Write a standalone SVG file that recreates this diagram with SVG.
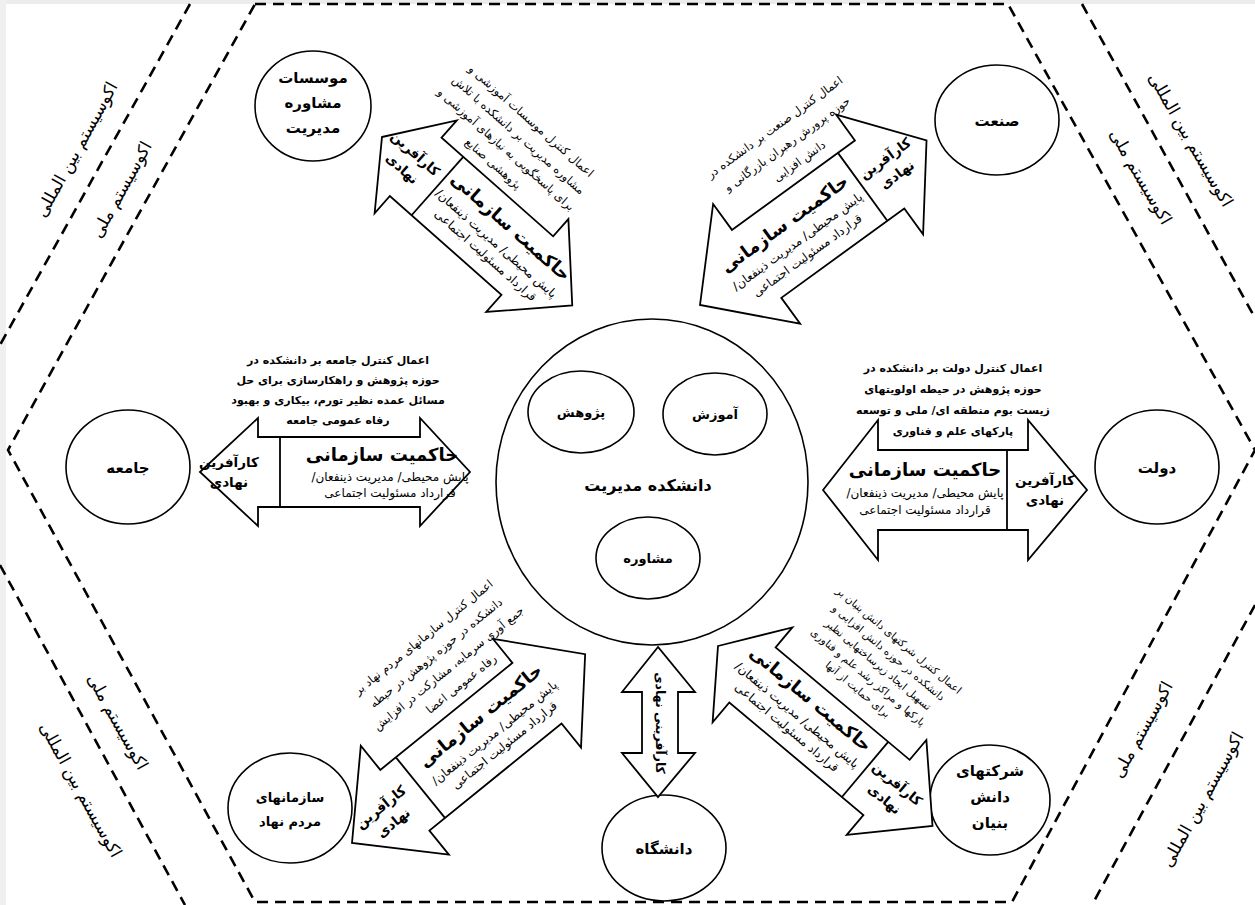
<svg xmlns="http://www.w3.org/2000/svg" width="1255" height="905" viewBox="0 0 1255 905">
<style>
text{font-family:"DejaVu Sans","Noto Sans",sans-serif;text-anchor:middle;direction:rtl;fill:#000}
.arr{fill:#fff;stroke:#000;stroke-width:1.8;stroke-linejoin:miter}
.dv{stroke:#000;stroke-width:1.8}
.dash{fill:none;stroke:#000;stroke-width:2.6;stroke-dasharray:11 7}
.ell{fill:#fff;stroke:#000;stroke-width:1.6}
.t{font-size:18px;font-weight:bold}
.ka{font-size:13.5px;font-weight:bold}
.sub{font-size:12px}
.d{font-size:11.5px}
.dh{font-size:11px;font-weight:bold}
.d2{font-size:10.5px}
.eco{font-size:17px}
.in{font-size:13px;font-weight:bold}
.sat{font-size:15px;font-weight:bold}
.ctr{font-size:16px;font-weight:bold}
</style>
<rect x="0" y="0" width="1255" height="905" fill="#fff"/>
<rect x="0" y="0" width="1255" height="4" fill="#ececec"/>
<rect x="0" y="0" width="6" height="905" fill="#f0f0f0"/>

<g id="boundaries">
  <path class="dash" d="M255,4 L1008,4 L1255,450 L1012,902 L255,902 L8,450 Z"/>
  <line class="dash" x1="190" y1="4" x2="0" y2="345"/>
  <line class="dash" x1="1082" y1="4" x2="1255" y2="318"/>
  <line class="dash" x1="0" y1="565" x2="185" y2="905"/>
  <line class="dash" x1="1255" y1="605" x2="1092" y2="905"/>
  <text class="eco" transform="translate(77,150) rotate(-61)" y="5">اکوسیستم بین المللی</text>
  <text class="eco" transform="translate(122,190) rotate(-61)" y="5">اکوسیستم ملی</text>
  <text class="eco" transform="translate(1190,140) rotate(60)" y="5">اکوسیستم بین المللی</text>
  <text class="eco" transform="translate(1140,177) rotate(60)" y="5">اکوسیستم ملی</text>
  <text class="eco" transform="translate(117,722) rotate(61)" y="5">اکوسیستم ملی</text>
  <text class="eco" transform="translate(80,790) rotate(61)" y="5">اکوسیستم بین المللی</text>
  <text class="eco" transform="translate(1143,730) rotate(-61)" y="5">اکوسیستم ملی</text>
  <text class="eco" transform="translate(1203,800) rotate(-61)" y="5">اکوسیستم بین المللی</text>
</g>

<g id="faculty">
  <ellipse class="ell" cx="652" cy="482" rx="156" ry="163"/>
  <text class="ctr" x="648" y="491">دانشکده مدیریت</text>
</g>
<g id="research">
  <ellipse class="ell" cx="581" cy="412" rx="53" ry="41"/>
  <text class="in" x="581" y="417">پژوهش</text>
</g>
<g id="education">
  <ellipse class="ell" cx="715" cy="414" rx="52" ry="41"/>
  <text class="in" x="715" y="419">آموزش</text>
</g>
<g id="consulting">
  <ellipse class="ell" cx="648" cy="558" rx="52" ry="41"/>
  <text class="in" x="648" y="563">مشاوره</text>
</g>

<g id="institutes">
  <ellipse class="ell" cx="313" cy="106" rx="58" ry="55"/>
  <text class="sat" x="313" y="83">موسسات</text>
  <text class="sat" x="313" y="108">مشاوره</text>
  <text class="sat" x="313" y="133">مدیریت</text>
</g>
<g id="industry">
  <ellipse class="ell" cx="997" cy="120" rx="62" ry="55"/>
  <text class="sat" x="997" y="126">صنعت</text>
</g>
<g id="society">
  <ellipse class="ell" cx="128" cy="467" rx="62" ry="57"/>
  <text class="sat" x="128" y="473">جامعه</text>
</g>
<g id="government">
  <ellipse class="ell" cx="1157" cy="467" rx="62" ry="57"/>
  <text class="sat" x="1157" y="473">دولت</text>
</g>
<g id="ngos">
  <ellipse class="ell" cx="290" cy="808" rx="62" ry="55"/>
  <text class="sat" x="290" y="802" style="font-size:13px">سازمانهای</text>
  <text class="sat" x="290" y="826" style="font-size:13px">مردم نهاد</text>
</g>
<g id="knowledge-firms">
  <ellipse class="ell" cx="990" cy="800" rx="60" ry="55"/>
  <text class="sat" x="990" y="776">شرکتهای</text>
  <text class="sat" x="990" y="802">دانش</text>
  <text class="sat" x="990" y="828">بنیان</text>
</g>
<g id="university">
  <ellipse class="ell" cx="664" cy="848" rx="62" ry="53"/>
  <text class="sat" x="664" y="854">دانشگاه</text>
</g>

<g id="connectors">
  <g id="arrow-society" transform="translate(200,472)">
    <polygon class="arr" points="0,0 58,-54 58,-35 220,-35 220,-54 270,0 220,54 220,35 58,35 58,54"/>
    <line class="dv" x1="80" y1="-35" x2="80" y2="35"/>
    <text class="ka" x="29" y="-5">کارآفرین</text>
    <text class="ka" x="29" y="15">نهادی</text>
    <text class="t" x="182" y="-11">حاکمیت سازمانی</text>
    <text class="sub" x="190" y="9">پایش محیطی/ مدیریت ذینفعان/</text>
    <text class="sub" x="190" y="25">قرارداد مسئولیت اجتماعی</text>
    <text class="dh" x="138" y="-108">اعمال کنترل جامعه بر دانشکده در</text>
    <text class="dh" x="138" y="-88">حوزه پژوهش و راهکارسازی برای حل</text>
    <text class="dh" x="138" y="-68">مسائل عمده نظیر تورم، بیکاری و بهبود</text>
    <text class="dh" x="138" y="-48">رفاه عمومی جامعه</text>
  </g>
  <g id="arrow-government" transform="translate(823,490)">
    <polygon class="arr" points="0,0 55,-70 55,-40 205,-40 205,-70 264,0 205,70 205,40 55,40 55,70"/>
    <line class="dv" x1="184" y1="-40" x2="184" y2="40"/>
    <text class="ka" x="222" y="-5">کارآفرین</text>
    <text class="ka" x="222" y="15">نهادی</text>
    <text class="t" x="102" y="-14">حاکمیت سازمانی</text>
    <text class="sub" x="102" y="7">پایش محیطی/ مدیریت ذینفعان/</text>
    <text class="sub" x="102" y="24">قرارداد مسئولیت اجتماعی</text>
    <text class="dh" x="130" y="-118">اعمال کنترل دولت بر دانشکده در</text>
    <text class="dh" x="130" y="-97">حوزه پژوهش در حیطه اولویتهای</text>
    <text class="dh" x="130" y="-76">زیست بوم منطقه ای/ ملی و توسعه</text>
    <text class="dh" x="130" y="-55">پارکهای علم و فناوری</text>
  </g>
  <g id="arrow-institutes" transform="translate(382,137) rotate(41.5)">
    <polygon class="arr" points="0,0 45,-62 45,-39 194,-39 194,-62 254,0 194,62 194,39 45,39 45,62"/>
    <line class="dv" x1="74" y1="-39" x2="74" y2="39"/>
    <text class="ka" x="36" y="-5">کارآفرین</text>
    <text class="ka" x="36" y="15">نهادی</text>
    <text class="t" x="156" y="-12">حاکمیت سازمانی</text>
    <text class="sub" x="156" y="8">پایش محیطی/ مدیریت ذینفعان/</text>
    <text class="sub" x="156" y="24">قرارداد مسئولیت اجتماعی</text>
    <text class="d" x="101" y="-107">اعمال کنترل موسسات آموزشی و</text>
    <text class="d" x="101" y="-88">مشاوره مدیریت بر دانشکده با تلاش</text>
    <text class="d" x="101" y="-69">برای پاسخگویی به نیازهای آموزشی و</text>
    <text class="d" x="101" y="-50">پژوهشی صنایع</text>
  </g>
  <g id="arrow-industry" transform="translate(700,305) rotate(-36)">
    <polygon class="arr" points="0,0 70,-74 70,-42 222,-42 222,-74 280,0 222,74 222,42 70,42 70,74"/>
    <line class="dv" x1="201" y1="-42" x2="201" y2="42"/>
    <text class="ka" x="236" y="-5">کارآفرین</text>
    <text class="ka" x="236" y="15">نهادی</text>
    <text class="t" x="116" y="-10">حاکمیت سازمانی</text>
    <text class="sub" x="116" y="10">پایش محیطی/ مدیریت ذینفعان/</text>
    <text class="sub" x="116" y="27">قرارداد مسئولیت اجتماعی</text>
    <text class="d" x="165" y="-96">اعمال کنترل صنعت بر دانشکده در</text>
    <text class="d" x="165" y="-75">حوزه پرورش رهبران بازرگانی و</text>
    <text class="d" x="165" y="-54">دانش افزایی</text>
  </g>
  <g id="arrow-ngos" transform="translate(352,843) rotate(-39)">
    <polygon class="arr" points="0,0 68,-70 68,-39 238,-39 238,-70 300,0 238,70 238,39 68,39 68,70"/>
    <line class="dv" x1="88" y1="-39" x2="88" y2="39"/>
    <text class="ka" x="45" y="-5">کارآفرین</text>
    <text class="ka" x="45" y="15">نهادی</text>
    <text class="t" x="180" y="-12">حاکمیت سازمانی</text>
    <text class="sub" x="180" y="8">پایش محیطی/ مدیریت ذینفعان/</text>
    <text class="sub" x="180" y="24">قرارداد مسئولیت اجتماعی</text>
    <text class="d" x="185" y="-111">اعمال کنترل سازمانهای مردم نهاد بر</text>
    <text class="d" x="185" y="-91">دانشکده در حوزه پژوهش در حیطه</text>
    <text class="d" x="185" y="-71">جمع آوری سرمایه، مشارکت در افزایش</text>
    <text class="d" x="185" y="-51">رفاه عمومی اعضا</text>
  </g>
  <g id="arrow-firms" transform="translate(718,646) rotate(40)">
    <polygon class="arr" points="0,0 45,-62 45,-36 220,-36 220,-62 280,0 220,62 220,36 45,36 45,62"/>
    <line class="dv" x1="192" y1="-36" x2="192" y2="36"/>
    <text class="ka" x="226" y="-5">کارآفرین</text>
    <text class="ka" x="226" y="15">نهادی</text>
    <text class="t" x="105" y="-13">حاکمیت سازمانی</text>
    <text class="sub" x="105" y="6">پایش محیطی/ مدیریت ذینفعان/</text>
    <text class="sub" x="105" y="22">قرارداد مسئولیت اجتماعی</text>
    <text class="d2" x="135" y="-117">اعمال کنترل شرکتهای دانش بنیان بر</text>
    <text class="d2" x="135" y="-101">دانشکده در حوزه دانش افزایی و</text>
    <text class="d2" x="135" y="-85">تسهیل ایجاد زیرساختهایی نظیر</text>
    <text class="d2" x="135" y="-69">پارکها و مراکز رشد علم و فناوری</text>
    <text class="d2" x="135" y="-53">برای حمایت از آنها</text>
  </g>
  <g id="arrow-university">
    <polygon class="arr" points="658,647 622,692 642,692 642,753 622,753 658,797 695,753 678,753 678,692 695,692"/>
    <text style="font-size:12.5px;font-weight:bold" transform="translate(660,723) rotate(90)" y="4">کارآفرینی نهادی</text>
  </g>
</g>
</svg>
